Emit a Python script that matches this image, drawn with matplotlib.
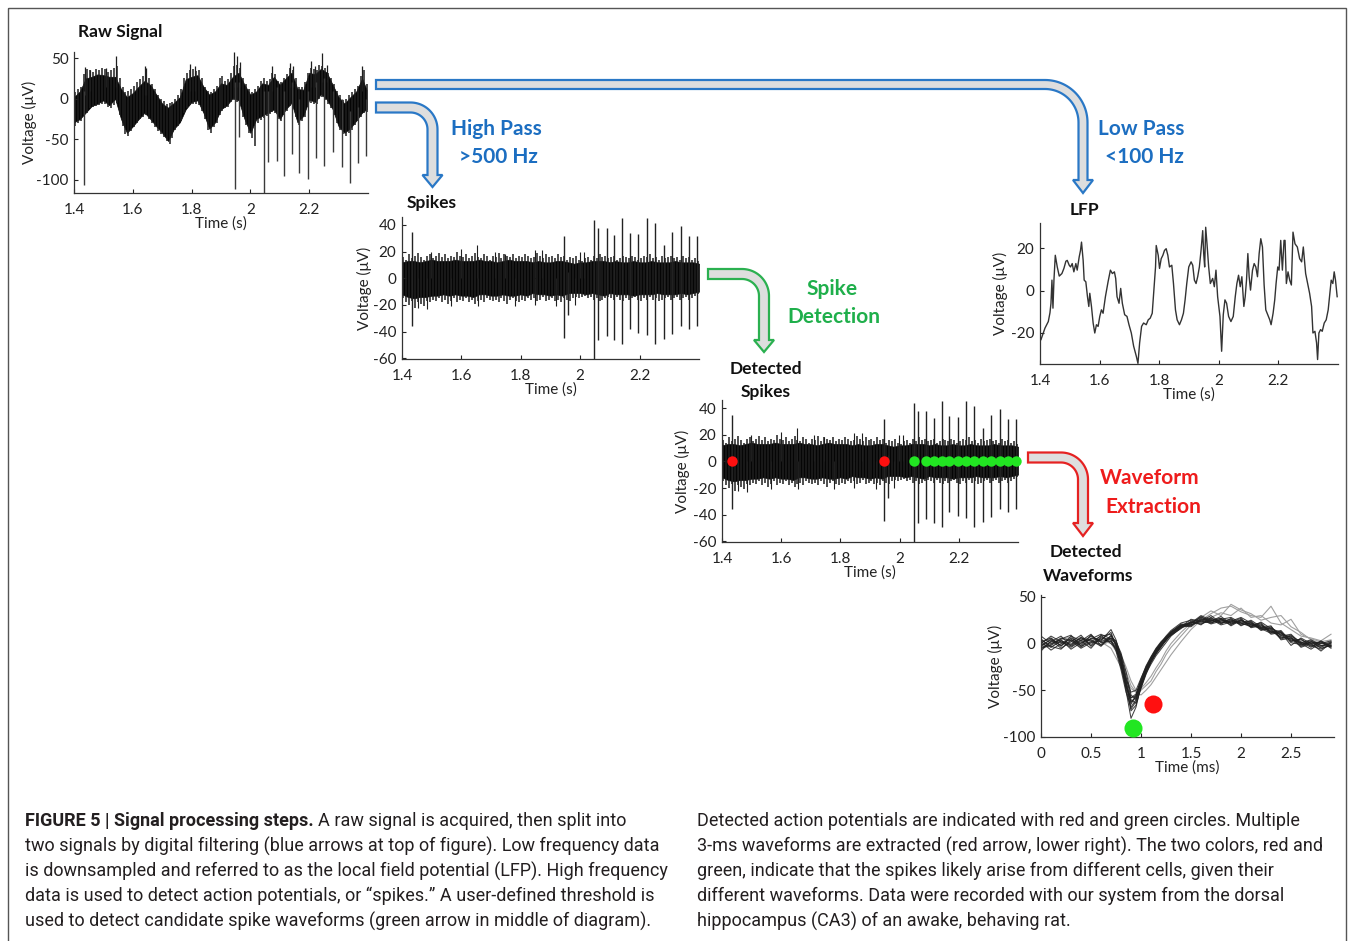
import numpy as np
import matplotlib
matplotlib.use('Agg')
import matplotlib.pyplot as plt
from matplotlib.patches import Polygon, Rectangle

# ---------------- data ----------------
# Raw signal: dense core of the band every 20 ms
raw_t = [1.40, 1.42, 1.44, 1.46, 1.48, 1.50, 1.52, 1.54, 1.56, 1.58, 1.60, 1.62, 1.64, 1.66, 1.68,
         1.70, 1.72, 1.74, 1.76, 1.78, 1.80, 1.82, 1.84, 1.86, 1.88, 1.90, 1.92, 1.94, 1.96, 1.98,
         2.00, 2.02, 2.04, 2.06, 2.08, 2.10, 2.12, 2.14, 2.16, 2.18, 2.20, 2.22, 2.24, 2.26, 2.28,
         2.30, 2.32, 2.34, 2.36, 2.38, 2.395]
raw_core_up = [2, 9, 25, 27, 30, 29, 27, 27, 12, 2, 7, 15, 22, 17, 5,
               -6, -11, -5, 2, 24, 27, 29, 15, 5, 9, 19, 17, 27, 32, 17,
               5, 9, 19, 17, 27, 17, 25, 32, 12, 11, 32, 30, 37, 32, 17,
               2, -6, 2, 9, 25, 11]
raw_core_lo = [-29, -25, -17, -9, -6, -2, -8, 0, -25, -42, -34, -25, -17, -25, -34,
               -42, -52, -37, -29, -13, -4, -2, -17, -37, -29, -13, -8, 1, -2, -25,
               -42, -25, -21, -17, -13, -25, -13, -5, -29, -21, -1, -4, 6, -1, -13,
               -34, -42, -36, -27, -17, -13]
# Raw signal: outer ragged edge every 10 ms
raw_fr_t = [1.405, 1.415, 1.425, 1.435, 1.445, 1.455, 1.465, 1.475, 1.485, 1.495,
            1.505, 1.515, 1.525, 1.535, 1.545, 1.555, 1.565, 1.575, 1.585, 1.595,
            1.605, 1.615, 1.625, 1.635, 1.645, 1.655, 1.665, 1.675, 1.685, 1.695,
            1.705, 1.715, 1.725, 1.735, 1.745, 1.755, 1.765, 1.775, 1.785, 1.795,
            1.805, 1.815, 1.825, 1.835, 1.845, 1.855, 1.865, 1.875, 1.885, 1.895,
            1.905, 1.915, 1.925, 1.935, 1.945, 1.955, 1.965, 1.975, 1.985, 1.995,
            2.005, 2.015, 2.025, 2.035, 2.045, 2.055, 2.065, 2.075, 2.085, 2.095,
            2.105, 2.115, 2.125, 2.135, 2.145, 2.155, 2.165, 2.175, 2.185, 2.195,
            2.205, 2.215, 2.225, 2.235, 2.245, 2.255, 2.265, 2.275, 2.285, 2.295,
            2.305, 2.315, 2.325, 2.335, 2.345, 2.355, 2.365, 2.375, 2.385, 2.395]
raw_fr_up = [8, 12, 15, 30, 36, 35, 33, 36, 35, 38,
             37, 33, 35, 38, 40, 25, 15, 8, 10, 12,
             16, 20, 24, 28, 30, 25, 18, 12, 5, 0,
             -3, -6, -5, -4, 0, 5, 12, 25, 32, 35,
             36, 34, 35, 25, 15, 10, 8, 12, 16, 25,
             28, 22, 24, 32, 40, 42, 38, 25, 18, 12,
             8, 12, 16, 22, 25, 22, 24, 32, 30, 22,
             20, 26, 30, 38, 35, 25, 15, 14, 20, 32,
             38, 36, 35, 42, 40, 38, 32, 25, 18, 10,
             4, -2, 0, 4, 8, 12, 16, 28, 35, 18]
raw_fr_dn = [-33, -30, -27, -20, -18, -12, -10, -9, -8, -6,
             -6, -10, -12, -8, -5, -20, -33, -44, -46, -40,
             -35, -30, -25, -22, -20, -25, -30, -35, -40, -44,
             -47, -52, -56, -48, -38, -34, -28, -18, -12, -8,
             -7, -6, -8, -15, -25, -38, -42, -35, -30, -20,
             -15, -12, -10, -4, -2, -4, -8, -22, -32, -42,
             -48, -58, -30, -26, -24, -21, -19, -16, -18, -25,
             -28, -20, -15, -9, -10, -22, -32, -28, -22, -10,
             -5, -6, -7, 0, 2, -2, -6, -12, -20, -30,
             -38, -44, -46, -42, -38, -32, -28, -22, -18, -16]
# thin upward excursions of the raw trace: time, base, top
raw_peak_t = [1.437, 1.455, 1.510, 1.543, 1.640, 1.646, 1.795, 1.810, 1.945, 1.955, 1.965,
              2.075, 2.135, 2.145, 2.205, 2.220, 2.245, 2.260, 2.380]
raw_peak_base = [5, 10, 15, 15, 5, 5, 10, 10, 15, 15, 15, 10, 15, 15, 15, 15, 20, 20, 10]
raw_peak_top = [39, 35, 38, 52, 40, 38, 43, 40, 58, 52, 45, 40, 44, 40, 46, 40, 56, 42, 40]

# Spike events (shared by the raw and the high-pass traces)
spk_t = [1.434, 1.946, 1.960, 2.047, 2.061, 2.089, 2.115, 2.142, 2.167, 2.196, 2.224, 2.252,
         2.282, 2.310, 2.339, 2.366, 2.393]
raw_spk_top = [10, 20, 20, 10, 10, 15, 10, 20, 0, 10, 20, 25, 10, 0, -15, -10, 0]
raw_spk_bot = [-106, -111, -47, -119, -78, -77, -95, -68, -91, -99, -73, -83, -66, -84, -104, -79, -71]
hp_spk_top = [34.5, 32, 5, 44, 38, 38, 32.5, 45, 34, 33, 45.5, 41.5, 25, 35, 39, 32, 31.5]
hp_spk_bot = [-35.5, -45, -27.5, -60.5, -46, -43.5, -46, -49, -38, -41, -42.5, -49, -45.5, -42, -35.5, -38, -35.5]

# High-pass band: solid core every 20 ms
hp_t = [1.40, 1.42, 1.44, 1.46, 1.48, 1.50, 1.52, 1.54, 1.56, 1.58, 1.60, 1.62, 1.64, 1.66, 1.68,
        1.70, 1.72, 1.74, 1.76, 1.78, 1.80, 1.82, 1.84, 1.86, 1.88, 1.90, 1.92, 1.94, 1.96, 1.98,
        2.00, 2.02, 2.04, 2.06, 2.08, 2.10, 2.12, 2.14, 2.16, 2.18, 2.20, 2.22, 2.24, 2.26, 2.28,
        2.30, 2.32, 2.34, 2.36, 2.38, 2.40]
hp_core_up = [12, 13, 13, 12, 13, 14, 13, 13, 13, 14, 13, 13, 13, 14, 13,
              13, 12, 13, 14, 13, 13, 13, 12, 13, 12, 12, 13, 13, 12, 11,
              12, 12, 13, 13, 13, 12, 13, 12, 12, 13, 12, 12, 13, 12, 12,
              12, 13, 12, 12, 12, 11]
hp_core_lo = [-12, -14, -15, -14, -14, -13, -13, -12, -13, -12, -13, -13, -14, -12, -12,
              -13, -13, -12, -13, -13, -12, -13, -11, -12, -12, -13, -12, -13, -11, -11,
              -11, -12, -11, -12, -13, -11, -12, -12, -12, -13, -12, -12, -12, -11, -12,
              -12, -12, -11, -12, -11, -10]
# High-pass band: ragged edge every 10 ms
hp_fr_t = raw_fr_t
hp_fr_up = [16, 14, 18, 15, 17, 19, 16, 14, 17, 18,
            15, 17, 19, 16, 18, 15, 17, 16, 20, 17,
            16, 18, 15, 17, 19, 16, 15, 18, 17, 14,
            17, 16, 19, 15, 18, 17, 16, 18, 15, 17,
            16, 18, 17, 15, 16, 19, 17, 15, 18, 16,
            17, 15, 18, 16, 17, 14, 16, 15, 17, 14,
            13, 15, 16, 14, 17, 15, 18, 16, 17, 15,
            16, 17, 14, 15, 17, 16, 15, 17, 16, 14,
            15, 17, 16, 18, 15, 16, 14, 17, 15, 16,
            17, 15, 16, 14, 17, 15, 16, 14, 15, 13]
hp_fr_dn = [-15, -18, -20, -17, -22, -18, -19, -21, -17, -18,
            -16, -17, -15, -18, -16, -19, -17, -15, -18, -16,
            -17, -15, -18, -16, -19, -17, -16, -18, -15, -16,
            -17, -16, -18, -15, -17, -19, -16, -15, -17, -18,
            -16, -17, -15, -16, -15, -17, -16, -14, -17, -16,
            -15, -17, -16, -18, -15, -16, -17, -15, -14, -15,
            -14, -13, -15, -14, -16, -15, -17, -16, -15, -14,
            -15, -16, -14, -16, -17, -15, -16, -15, -14, -16,
            -17, -15, -16, -14, -16, -15, -17, -16, -15, -14,
            -16, -15, -14, -16, -15, -14, -16, -15, -13, -12]
hp_peak_t = [1.497, 1.600, 1.654, 1.712, 1.746, 1.847, 1.872, 1.999, 2.013]
hp_peak_v = [20, 22, 25, 20, 18, 21.5, 21.5, 20, 20]
hp_dip_t = [1.454, 1.485, 1.566, 1.656, 1.780, 1.847, 1.920, 1.982]
hp_dip_v = [-22, -23, -20.5, -20.5, -21, -20, -21, -20]

red_dot_t = [1.434, 1.946]
green_dot_t = [2.047, 2.089, 2.115, 2.142, 2.167, 2.196, 2.224, 2.252, 2.282, 2.310, 2.339, 2.366, 2.393]

# LFP trace
lfp_t = [1.4033, 1.4167, 1.4279, 1.4334, 1.4368, 1.4401, 1.4435, 1.4468, 1.4513, 1.4579, 1.4646, 1.4735,
         1.4802, 1.4869, 1.4914, 1.4981, 1.5025, 1.5081, 1.5136, 1.5203, 1.5248, 1.5315, 1.5359, 1.5393,
         1.5448, 1.5482, 1.5538, 1.5593, 1.5638, 1.5671, 1.5727, 1.5783, 1.5838, 1.5894, 1.5950, 1.6006,
         1.6061, 1.6117, 1.6195, 1.6284, 1.6362, 1.6429, 1.6496, 1.6540, 1.6585, 1.6652, 1.6708, 1.6763,
         1.6841, 1.6919, 1.6986, 1.7064, 1.7142, 1.7231, 1.7287, 1.7343, 1.7409, 1.7476, 1.7565, 1.7632,
         1.7699, 1.7766, 1.7822, 1.7877, 1.7900, 1.7967, 1.8011, 1.8067, 1.8123, 1.8178, 1.8234, 1.8290,
         1.8345, 1.8423, 1.8479, 1.8546, 1.8602, 1.8680, 1.8747, 1.8813, 1.8869, 1.8925, 1.8992, 1.9070,
         1.9125, 1.9181, 1.9237, 1.9292, 1.9348, 1.9404, 1.9460, 1.9493, 1.9526, 1.9560, 1.9604, 1.9660,
         1.9716, 1.9794, 1.9850, 1.9905, 1.9961, 2.0039, 2.0095, 2.0150, 2.0206, 2.0262, 2.0329, 2.0407,
         2.0485, 2.0552, 2.0607, 2.0663, 2.0719, 2.0774, 2.0841, 2.0886, 2.0930, 2.0975, 2.1019, 2.1064,
         2.1131, 2.1187, 2.1242, 2.1298, 2.1354, 2.1409, 2.1465, 2.1521, 2.1577, 2.1643, 2.1710, 2.1755,
         2.1822, 2.1877, 2.1922, 2.1978, 2.2022, 2.2078, 2.2134, 2.2189, 2.2223, 2.2267, 2.2323, 2.2379,
         2.2435, 2.2490, 2.2557, 2.2635, 2.2713, 2.2780, 2.2836, 2.2914, 2.2981, 2.3047, 2.3114, 2.3159,
         2.3226, 2.3281, 2.3315, 2.3359, 2.3415, 2.3471, 2.3538, 2.3604, 2.3671, 2.3716, 2.3772, 2.3827,
         2.3872, 2.3916, 2.3972]
lfp_v = [-23.1, -17.7, -14.6, -10.5, -6.0, 4.9, -8.3, 4.9, 16.6, 11.1, 6.8, 8.0,
         10.4, 13.8, 14.2, 11.9, 11.1, 12.7, 8.8, 12.7, 9.6, 15.8, 18.9, 22.8,
         14.2, 4.9, 4.1, -2.9, -7.5, -1.3, -7.5, -15.3, -20.0, -16.1, -16.9, -12.2,
         -9.1, -10.7, -2.9, 4.1, 9.6, 8.0, 8.8, 5.7, -2.9, -6.0, 1.0, -6.0,
         -11.4, -12.2, -16.1, -20.0, -26.2, -30.9, -34.3, -24.7, -16.9, -15.3, -16.1, -13.8,
         -13.0, -10.7, 0.2, 11.1, 21.2, 16.6, 10.4, 15.0, 16.6, 18.9, 19.7, 16.6,
         11.1, 11.9, 3.3, -9.1, -13.8, -16.1, -13.8, -10.7, -4.4, 3.3, 11.1, 13.5,
         11.9, 4.9, 3.3, 6.5, 11.1, 18.9, 28.2, 17.4, 11.1, 29.8, 22.0, 11.1,
         3.3, 5.7, 1.8, 9.6, -2.9, -12.2, -28.6, -11.4, -4.4, -6.0, -12.2, -14.6,
         -12.2, -2.9, 3.3, 7.2, 1.8, 6.5, -7.5, -2.9, 4.9, 17.4, 6.5, 0.2,
         9.6, 12.7, 11.1, 6.5, 17.4, 24.4, 20.5, 2.6, -9.1, -11.4, -13.8, -16.1,
         -10.7, -4.4, 3.3, 11.1, 9.6, 23.6, 9.6, 23.6, 23.6, 3.3, 8.8, 4.9,
         2.6, 27.5, 22.0, 20.5, 15.0, 13.5, 20.5, 8.0, 3.3, -1.3, -7.5, -20.0,
         -19.2, -24.7, -32.5, -20.0, -18.4, -19.2, -15.3, -13.8, -9.1, -2.9, 4.9, 3.3,
         8.8, 4.9, -2.9]

# Extracted waveforms (ms)
wf_t = [0.0, 0.1, 0.2, 0.3, 0.4, 0.5, 0.6, 0.7, 0.75, 0.8, 0.85, 0.9, 0.95, 1.0, 1.05, 1.1, 1.15, 1.2,
        1.25, 1.3, 1.4, 1.5, 1.6, 1.7, 1.8, 1.9, 2.0, 2.1, 2.2, 2.3, 2.4, 2.5, 2.6, 2.7, 2.8, 2.9]
wf_green = [
    [-3, 5, -2, 6, 0, 8, 2, 6, 0, -20, -50, -80, -68, -45, -30, -20, -10, -3, 3, 10, 19, 22, 28, 24, 27, 22, 25, 20, 16, 18, 8, 10, 0, 3, -5, -2],
    [5, -4, 3, -1, 7, -2, 9, 0, -5, -25, -45, -62, -58, -42, -26, -16, -7, 0, 6, 12, 20, 19, 27, 22, 26, 20, 26, 18, 20, 12, 14, 2, 5, -3, 2, -4],
    [-6, 2, 8, -3, 4, 3, -1, 8, 2, -10, -30, -55, -60, -44, -30, -19, -11, -4, 4, 9, 16, 24, 20, 28, 21, 27, 19, 24, 15, 16, 6, 9, -2, 2, 0, 3],
    [2, -7, 0, 5, -4, 6, 4, 12, -3, -18, -42, -65, -55, -38, -24, -14, -5, 2, 7, 12, 21, 20, 25, 27, 23, 25, 22, 19, 21, 10, 12, 4, 0, -6, 1, -2],
    [-2, 4, -5, 2, 9, -3, 6, 2, -6, -22, -48, -70, -62, -46, -32, -22, -13, -6, 1, 8, 17, 23, 22, 24, 29, 21, 24, 23, 14, 17, 9, 3, 4, -1, -4, 1],
    [8, 0, 4, -6, 1, 5, 10, 5, 0, -12, -35, -58, -56, -40, -27, -17, -8, -1, 5, 11, 19, 18, 26, 21, 24, 26, 20, 22, 17, 13, 11, 6, -3, 2, -2, 0],
    [-4, -1, 6, 3, -5, 1, 3, 15, 4, -14, -38, -52, -50, -37, -25, -15, -6, 1, 8, 14, 22, 25, 23, 26, 20, 23, 27, 17, 19, 15, 5, 8, 2, -4, 3, -3],
    [1, 6, -3, 8, 3, -5, 7, 4, -8, -28, -52, -68, -60, -43, -29, -18, -9, -2, 4, 10, 18, 21, 29, 23, 25, 22, 23, 21, 16, 11, 13, 1, -1, 1, -3, 2],
    [-8, 3, 1, -2, 6, 4, -3, 9, -1, -16, -40, -60, -64, -48, -33, -20, -11, -3, 5, 9, 17, 20, 24, 30, 22, 24, 21, 25, 18, 14, 7, 5, 1, -2, -6, -1],
    [4, -3, -6, 4, -2, 9, 1, 3, -4, -20, -44, -63, -57, -41, -28, -17, -8, 0, 6, 12, 19, 23, 21, 25, 27, 19, 25, 20, 22, 12, 10, 7, -4, 0, 2, -5],
    [0, 8, 2, -4, 3, 10, -2, 6, 3, -15, -40, -72, -66, -47, -31, -19, -10, -2, 4, 10, 18, 26, 24, 22, 26, 28, 22, 18, 23, 16, 12, -2, 6, 0, -8, 1],
    [-5, -2, 5, 9, -3, 2, 8, 10, -2, -24, -46, -58, -54, -39, -26, -15, -6, 1, 7, 13, 20, 22, 30, 25, 22, 24, 28, 22, 17, 19, 4, 6, 1, 4, -2, -3],
]
wf_red = [
    [2, 6, -2, 3, 5, 0, 4, 0, -8, -18, -30, -45, -52, -55, -50, -44, -36, -28, -20, -12, 2, 15, 25, 32, 38, 40, 34, 30, 28, 40, 22, 15, 8, 6, 3, 10],
    [-3, 1, 4, 7, -2, 5, 2, -5, -15, -25, -38, -48, -52, -50, -45, -40, -30, -22, -12, -4, 8, 20, 28, 35, 30, 42, 36, 32, 25, 28, 30, 18, 12, 4, 0, 2],
    [0, -4, 3, 0, 6, 2, -2, 3, -2, -12, -25, -40, -50, -48, -42, -35, -26, -18, -8, 0, 12, 22, 26, 28, 33, 30, 38, 28, 30, 22, 20, 26, 10, 5, 2, 4],
]
wf_green_marker = (0.92, -90)
wf_red_marker = (1.12, -65)

time_ticks = [1.4, 1.6, 1.8, 2.0, 2.2]
time_ticklabels = ['1.4', '1.6', '1.8', '2', '2.2']
wf_ticks = [0, 0.5, 1, 1.5, 2, 2.5]
wf_ticklabels = ['0', '0.5', '1', '1.5', '2', '2.5']

# ---------------- figure ----------------
W, H = 1356, 941
plt.rcParams['font.family'] = ['Lato', 'DejaVu Sans']
plt.rcParams['axes.unicode_minus'] = False
fig = plt.figure(figsize=(W / 100, H / 100), dpi=100)
fig.patch.set_facecolor('white')

ov = fig.add_axes([0, 0, 1, 1])
ov.set_xlim(0, W)
ov.set_ylim(H, 0)
ov.axis('off')

BLUE = '#1C6EC1'
GREEN = '#1FAF4B'
RED = '#EE1C1C'
TRACE = '#050505'
FRINGE = '#1e1e1e'


def axes_px(x0, y0, x1, y1):
    return fig.add_axes([x0 / W, 1 - y1 / H, (x1 - x0) / W, (y1 - y0) / H])


def style(ax, xlim, ylim, xticks, xtl, yticks, xlabel, ylab_x):
    ax.set_xlim(xlim)
    ax.set_ylim(ylim)
    ax.patch.set_alpha(0)
    for s in ['top', 'right']:
        ax.spines[s].set_visible(False)
    for s in ['left', 'bottom']:
        ax.spines[s].set_linewidth(0.9)
        ax.spines[s].set_color('#333333')
    ax.set_xticks(xticks)
    ax.set_xticklabels(xtl)
    ax.set_yticks(yticks)
    ax.tick_params(direction='in', length=3, width=0.8, labelsize=11, colors='#222222')
    ax.tick_params(axis='x', pad=7)
    ax.tick_params(axis='y', pad=4)
    ax.set_xlabel(xlabel, fontsize=11, color='#222222')
    ax.xaxis.set_label_coords(0.5, -0.215)
    ax.xaxis.label.set_va('center')
    ax.set_ylabel('Voltage (μV)', fontsize=11, color='#222222')
    ax.yaxis.set_label_coords(ylab_x, 0.5)
    ax.yaxis.label.set_va('center')


def hp_trace(ax):
    ax.fill_between(hp_t, hp_core_lo, hp_core_up, color=TRACE, lw=0.5)
    ax.vlines(hp_fr_t, hp_fr_dn, hp_fr_up, color=FRINGE, lw=1.1)
    ax.vlines(hp_peak_t, 0, hp_peak_v, color=FRINGE, lw=0.8)
    ax.vlines(hp_dip_t, hp_dip_v, 0, color=FRINGE, lw=0.8)
    ax.vlines(spk_t, hp_spk_bot, hp_spk_top, color='#222222', lw=1.0)


# Raw signal
ax1 = axes_px(74, 52, 368, 193)
ax1.fill_between(raw_t, raw_core_lo, raw_core_up, color=TRACE, lw=0.5)
ax1.vlines(raw_fr_t, raw_fr_dn, raw_fr_up, color=FRINGE, lw=1.1)
ax1.vlines(raw_peak_t, raw_peak_base, raw_peak_top, color=FRINGE, lw=0.9)
ax1.vlines(spk_t, raw_spk_bot, raw_spk_top, color='#3a3a3a', lw=1.0)
style(ax1, (1.4, 2.4), (-116, 57.5), time_ticks, time_ticklabels, [-100, -50, 0, 50], 'Time (s)', -0.15)

# High-pass spikes
ax2 = axes_px(402, 217, 699, 359)
hp_trace(ax2)
style(ax2, (1.4, 2.4), (-60.5, 46), time_ticks, time_ticklabels, [-60, -40, -20, 0, 20, 40], 'Time (s)', -0.128)

# LFP
ax3 = axes_px(1040, 223, 1338, 364)
ax3.plot(lfp_t, lfp_v, color='#333333', lw=1.0)
style(ax3, (1.4, 2.4), (-34.6, 31.8), time_ticks, time_ticklabels, [-20, 0, 20], 'Time (s)', -0.131)

# Detected spikes
ax4 = axes_px(722, 400, 1018, 542)
hp_trace(ax4)
ax4.plot(red_dot_t, [0] * len(red_dot_t), 'o', color='#FF1010', ms=7.5, mec='none')
ax4.plot(green_dot_t, [0] * len(green_dot_t), 'o', color='#22E622', ms=7.5, mec='none', clip_on=False)
style(ax4, (1.4, 2.4), (-60.5, 46), time_ticks, time_ticklabels, [-60, -40, -20, 0, 20, 40], 'Time (s)', -0.132)

# Waveforms
ax5 = axes_px(1041, 595, 1334, 737)
for tr in wf_red:
    ax5.plot(wf_t, tr, color='#a0a0a0', lw=0.8)
for tr in wf_green:
    ax5.plot(wf_t, tr, color='#202020', lw=0.75, alpha=0.85)
ax5.plot(*wf_green_marker, 'o', color='#22E622', ms=13, mec='none', clip_on=False, zorder=5)
ax5.plot(*wf_red_marker, 'o', color='#FF1010', ms=13, mec='none', clip_on=False, zorder=5)
style(ax5, (0, 2.93), (-100, 52), wf_ticks, wf_ticklabels, [-100, -50, 0, 50], 'Time (ms)', -0.157)


# ---------------- arrows ----------------
def bent_arrow(x0, yc, xc, R, w, yb, hw, yt, ec):
    th = np.linspace(0, np.pi / 2, 30)
    cx, cy = xc - R, yc + R
    pts = [(x0, yc - w)]
    pts += [(cx + (R + w) * np.sin(t), cy - (R + w) * np.cos(t)) for t in th]
    pts += [(xc + w, yb), (xc + hw, yb), (xc, yt), (xc - hw, yb), (xc - w, yb)]
    pts += [(cx + (R - w) * np.sin(t), cy - (R - w) * np.cos(t)) for t in th[::-1]]
    pts += [(x0, yc + w)]
    ov.add_patch(Polygon(pts, closed=True, fc='#dedede', ec=ec, lw=1.6, joinstyle='miter'))


bent_arrow(376, 84.5, 1083, 38, 4.5, 180, 10, 193, '#2A78C6')
bent_arrow(376, 107.5, 432.5, 22, 5, 175, 10, 187, '#2A78C6')
bent_arrow(708, 274, 764, 22, 5, 340, 10, 352, '#2BB050')
bent_arrow(1028, 457.5, 1083, 22, 5, 523, 10, 536, '#E52222')

# ---------------- texts ----------------
head_kw = dict(ha='center', va='center', fontsize=12.5, fontweight='bold', color='#111111')
for s, x, y in [('Raw Signal', 120, 32), ('Spikes', 432, 203), ('LFP', 1084, 210),
                ('Detected', 766, 369), ('Spikes', 766, 392),
                ('Detected', 1086, 552), ('Waveforms', 1088, 576)]:
    ov.text(x, y, s, **head_kw)

lab_kw = dict(ha='center', va='center', fontsize=15, fontweight='bold')
for s, x, y, c in [('High Pass', 496, 129, BLUE), ('>500 Hz', 498, 157, BLUE),
                   ('Low Pass', 1141, 129, BLUE), ('<100 Hz', 1144, 157, BLUE),
                   ('Spike', 832, 289, GREEN), ('Detection', 834, 317, GREEN),
                   ('Waveform', 1150, 478, RED), ('Extraction', 1153, 507, RED)]:
    ov.text(x, y, s, color=c, **lab_kw)

# frame
ov.add_patch(Rectangle((8, 8), 1338, 945, fill=False, ec='#555555', lw=1.0, clip_on=False))

# caption
cap_font = ['Roboto', 'DejaVu Sans']
cap_kw = dict(fontsize=13, family=cap_font, color='#231F20', va='center', ha='left')
renderer = fig.canvas.get_renderer()
b = ov.text(25, 821, 'FIGURE 5 | Signal processing steps.', fontweight='bold', **cap_kw)
bb = b.get_window_extent(renderer)
ov.text(bb.x1 + 4, 821, 'A raw signal is acquired, then split into', **cap_kw)
left_lines = [
    'two signals by digital filtering (blue arrows at top of figure). Low frequency data',
    'is downsampled and referred to as the local field potential (LFP). High frequency',
    'data is used to detect action potentials, or \u201cspikes.\u201d A user-defined threshold is',
    'used to detect candidate spike waveforms (green arrow in middle of diagram).',
]
for i, s in enumerate(left_lines):
    ov.text(25, 846 + 25 * i, s, **cap_kw)
right_lines = [
    'Detected action potentials are indicated with red and green circles. Multiple',
    '3-ms waveforms are extracted (red arrow, lower right). The two colors, red and',
    'green, indicate that the spikes likely arise from different cells, given their',
    'different waveforms. Data were recorded with our system from the dorsal',
    'hippocampus (CA3) of an awake, behaving rat.',
]
for i, s in enumerate(right_lines):
    ov.text(697, 821 + 25 * i, s, **cap_kw)

fig.savefig('out.png', dpi=100, facecolor='white')
